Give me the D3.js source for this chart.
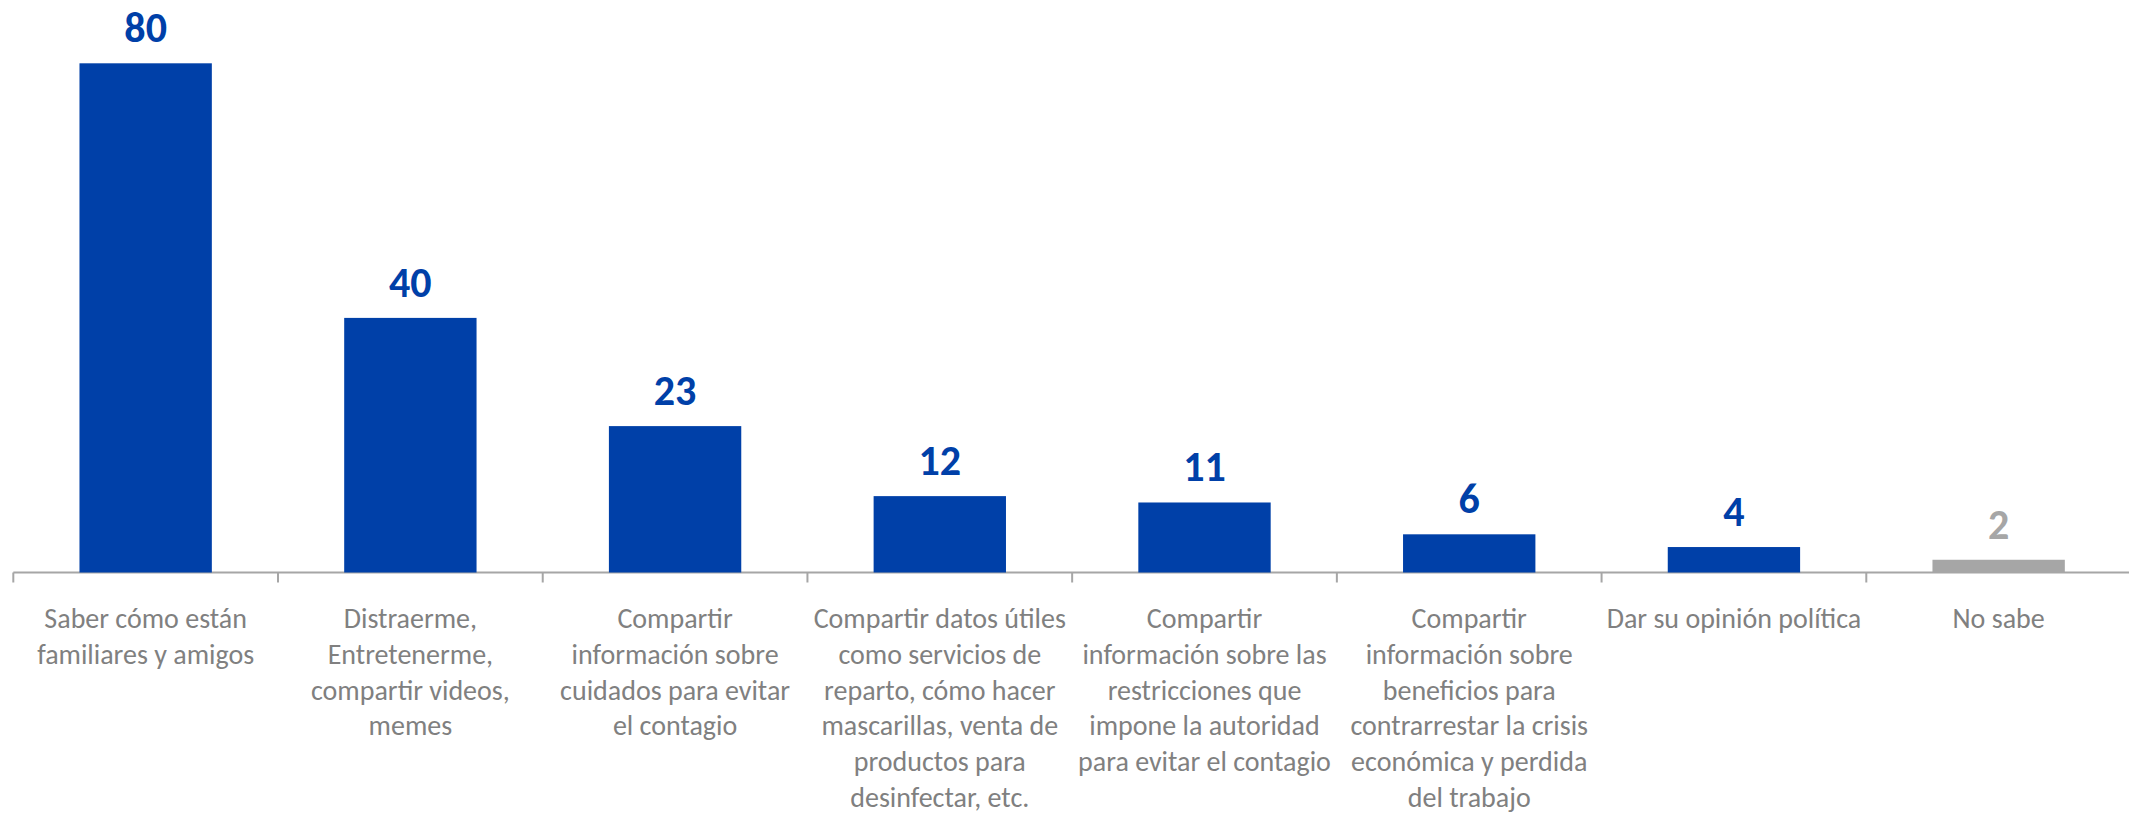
<!DOCTYPE html>
<html>
<head>
<meta charset="utf-8">
<script src="https://cdn.jsdelivr.net/npm/d3@7"></script>
<style>
    html, body { margin: 0; padding: 0; background: #fff; }
    svg { display: block; }
</style>
</head>
<body>
<div id="barchart-element"></div>
<script>
// categories, one array of lines per bar (wrapped as in the original)
const categories = [
    ['Saber cómo están', 'familiares y amigos'],
    ['Distraerme,', 'Entretenerme,', 'compartir videos,', 'memes'],
    ['Compartir', 'información sobre', 'cuidados para evitar', 'el contagio'],
    ['Compartir datos útiles', 'como servicios de', 'reparto, cómo hacer', 'mascarillas, venta de', 'productos para', 'desinfectar, etc.'],
    ['Compartir', 'información sobre las', 'restricciones que', 'impone la autoridad', 'para evitar el contagio'],
    ['Compartir', 'información sobre', 'beneficios para', 'contrarrestar la crisis', 'económica y perdida', 'del trabajo'],
    ['Dar su opinión política'],
    ['No sabe']
];
const values = [80, 40, 23, 12, 11, 6, 4, 2];
const grayCategories = ['No sabe'];

generateBarchart('#barchart-element');

function generateBarchart(barchartId) {

    const pageWidth = 2129;
    const pageHeight = 814;
    const axisY = 572.5;
    const topY = 63.3;
    const blue = '#0040A8';
    const gray = '#A6A6A6';
    const font = 'Carlito, Calibri, Lato, sans-serif';

    const svg = d3.select(barchartId)
        .append("svg")
        .attr("width", pageWidth)
        .attr("height", pageHeight);

    const keys = categories.map(c => c.join(' '));

    var xBand = d3.scaleBand()
        .domain(keys)
        .range([13.3, 2131])
        .paddingInner(0.5)
        .paddingOuter(0.25);

    var yScale = d3.scaleLinear()
        .domain([0, 80])
        .range([axisY, topY]);

    const data = keys.map((k, i) => ({key: k, lines: categories[i], value: values[i]}));
    const colorOf = d => grayCategories.includes(d.key) ? gray : blue;

    // axis line + ticks at band boundaries
    const step = xBand.step();
    const axis = svg.append("g").attr("class", "x-axis");
    axis.append("line")
        .attr("x1", 13.3).attr("x2", pageWidth)
        .attr("y1", axisY).attr("y2", axisY)
        .attr("stroke", "#A6A6A6").attr("stroke-width", 2);
    axis.selectAll(".tick")
        .data(d3.range(keys.length + 1))
        .enter().append("line")
        .attr("class", "tick")
        .attr("x1", i => 13.3 + i * step).attr("x2", i => 13.3 + i * step)
        .attr("y1", axisY).attr("y2", axisY + 10)
        .attr("stroke", "#A6A6A6").attr("stroke-width", 2);

    // bars
    svg.selectAll(".bar")
        .data(data)
        .enter().append("rect")
        .attr("class", "bar")
        .attr("x", d => xBand(d.key))
        .attr("width", xBand.bandwidth())
        .attr("y", d => yScale(d.value))
        .attr("height", d => axisY - yScale(d.value))
        .style("fill", colorOf);

    // value labels
    svg.selectAll(".value-label")
        .data(data)
        .enter().append("text")
        .attr("class", "value-label")
        .attr("x", d => xBand(d.key) + xBand.bandwidth() / 2)
        .attr("y", d => yScale(d.value) - 21)
        .attr("text-anchor", "middle")
        .style("font-family", font)
        .style("font-weight", "bold")
        .style("font-size", "42px")
        .style("fill", colorOf)
        .text(d => d.value);

    // category labels
    const labels = svg.selectAll(".cat-label")
        .data(data)
        .enter().append("text")
        .attr("class", "cat-label")
        .attr("text-anchor", "middle")
        .style("font-family", font)
        .style("font-size", "28px")
        .style("fill", "#808080");

    labels.selectAll("tspan")
        .data(d => d.lines.map(l => ({l, x: xBand(d.key) + xBand.bandwidth() / 2})))
        .enter().append("tspan")
        .attr("x", t => t.x)
        .attr("y", (t, i) => 628 + i * 35.8)
        .text(t => t.l);
}
</script>
</body>
</html>
